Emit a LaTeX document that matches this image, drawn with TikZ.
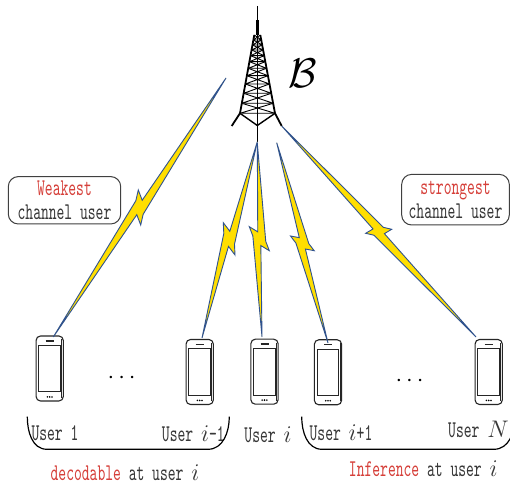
\documentclass[tikz,border=0pt]{standalone}
\usepackage{fontspec}
\usetikzlibrary{calc}
\newfontfamily\monofont[FakeStretch=0.62]{lmmono10-regular.otf}
\definecolor{boltblue}{RGB}{47,82,143}
\definecolor{boltyellow}{RGB}{255,222,0}
\definecolor{labelred}{RGB}{214,64,58}
\definecolor{labelgray}{RGB}{55,55,55}

\tikzset{
  bolt/.style={draw=boltblue, fill=boltyellow, line width=0.45pt},
  phone/.style={draw=black!85, line width=0.55pt, rounded corners=2.2pt,
    minimum width=13.6pt, minimum height=32.5pt, inner sep=0pt},
  phonepart/.style={draw=black!85, line width=0.45pt},
  lbl/.style={font=\monofont\fontsize{12}{12}\selectfont, text=labelgray, inner sep=0pt},
  tagbox/.style={draw=black!75, line width=0.5pt, rounded corners=5pt, align=center,
    font=\monofont\fontsize{12}{12}\selectfont, text=labelgray, inner sep=0pt},
  bracket/.style={draw=black, line width=0.6pt},
  lattice/.style={line width=0.45pt},
  dotsnode/.style={font=\fontsize{12.5}{14}\selectfont, inner sep=0pt},
}

% zigzag bolt: #1 top tip, #2 upper spike, #3 lower spike, #4 bottom tip
\newcommand\lightning[4]{%
  \draw[bolt] (#1)
    -- ($(#2)!0.7!(#3)!1.6pt!90:(#3)$)
    -- (#3)
    -- ($(#2)!0.7!(#3)!1.6pt!-90:(#3)$)
    -- (#4)
    -- ($(#2)!0.3!(#3)!1.6pt!-90:(#3)$)
    -- (#2)
    -- ($(#2)!0.3!(#3)!1.6pt!90:(#3)$)
    -- cycle;}

% screen, side edge, earpiece and buttons of a handset node
\newcommand\handset[1]{%
  \draw[phonepart] ($(#1.north east)+(-2.2,4)$) -- ($(#1.south east)+(-2.2,-4)$);
  \draw[phonepart] ($(#1.center)+(-10.8,-23.3)$) rectangle ($(#1.center)+(10.6,23.3)$);
  \draw[phonepart, line width=0.65pt] ($(#1.north)+(-4,5.5)$) -- ($(#1.north)+(4,5.5)$);
  \foreach \dx in {-2.3,0,2.3} \fill ($(#1.south)+(\dx,-4.6)$) circle (0.45pt);
}

\begin{document}
\begin{tikzpicture}[x=0.5pt,y=-0.5pt]
\useasboundingbox (0,0) rectangle (510,485);
\fill[white] (0,0) rectangle (510,485);

% ---- transmission tower ----
\draw[line width=0.7pt] (257.3,6) -- (257.3,21);
\fill (255.6,20) rectangle (259.0,35);
\foreach \ya/\yb in {35/40,40/45,45/50,50/55.7,55.7/61.7,61.7/68.3,68.3/75.7,75.7/84,84/93.3,93.3/103.3,103.3/113.3}{
  \pgfmathsetmacro\la{254.3-(\ya-35)*0.1826}
  \pgfmathsetmacro\lb{254.3-(\yb-35)*0.1826}
  \pgfmathsetmacro\ra{260.3+(\ya-35)*0.1884}
  \pgfmathsetmacro\rb{260.3+(\yb-35)*0.1884}
  \draw[lattice] (\la,\ya) -- (\rb,\yb) (\ra,\ya) -- (\lb,\yb) (\la,\yb) -- (\rb,\yb);
}
\draw[line width=0.9pt] (254.3,35) -- (240,113.3) -- (231.7,126);
\draw[line width=0.9pt] (260.3,35) -- (275,113.3) -- (281.7,126);
\draw[line width=0.7pt] (240,113.3) -- (257.3,125.5) -- (275,113.3);
\draw[line width=0.7pt] (257.3,35) -- (257.3,141.7);
\node (bs) at (303,73) {\fontsize{22}{22}\selectfont$\mathcal{B}$};

% ---- handsets ----
\node[phone] (u1)   at (49.7,368.5) {};
\node[phone] (ui1)  at (199.7,372) {};
\node[phone] (ui)   at (264.5,371.7) {};
\node[phone] (uip1) at (328,372.3) {};
\node[phone] (uN)   at (488.7,372) {};
\foreach \p in {u1,ui1,ui,uip1,uN} {\handset{\p}}

\node[dotsnode] (dl) at (121.7,378) {$\cdots$};
\node[dotsnode] (dr) at (409.5,381) {$\cdots$};

% ---- bolt end points ----
\coordinate (p1) at (226,78);    \coordinate (s1a) at (138.3,190); \coordinate (s1b) at (140.7,225); \coordinate (q1) at (53.3,337);
\coordinate (p2) at (257.3,141.7); \coordinate (s2a) at (223.3,222.7); \coordinate (s2b) at (235,255); \coordinate (q2) at (202,338);
\coordinate (p3) at (257.3,143);  \coordinate (s3a) at (249.3,226.7); \coordinate (s3b) at (269.3,250.7); \coordinate (q3) at (262,337);
\coordinate (p4) at (276.7,142.7); \coordinate (s4a) at (290.5,236); \coordinate (s4b) at (314.2,250.7); \coordinate (q4) at (328,343);
\coordinate (p5) at (281.7,126);  \coordinate (s5a) at (365.7,233.3); \coordinate (s5b) at (391.7,229.3); \coordinate (q5) at (476,337);

\lightning{p1}{s1a}{s1b}{q1}
\lightning{p2}{s2a}{s2b}{q2}
\lightning{p3}{s3a}{s3b}{q3}
\lightning{p4}{s4a}{s4b}{q4}
\lightning{p5}{s5a}{s5b}{q5}

% ---- tags ----
\node[tagbox, minimum width=56.2pt, minimum height=23.7pt] (weak) at (64.5,200.3)
  {\textcolor{labelred}{Weakest}\\channel user};
\node[tagbox, minimum width=53.8pt, minimum height=25.3pt] (strong) at (455.5,199.7)
  {\textcolor{labelred}{strongest}\\channel user};

% ---- user labels ----
\node[lbl] (l1)   at (55,433)    {User 1};
\node[lbl] (li1)  at (193.3,434) {User $i$-1};
\node[lbl] (li)   at (268,435)   {User $i$};
\node[lbl] (lip1) at (341,433)   {User $i$+1};
\node[lbl, anchor=east] (lN) at (509,429) {User $N$};

% ---- grouping brackets ----
\draw[bracket] (27.3,416.7) to[out=-90,in=180] (47,449.3) -- (208,449.3) to[out=0,in=-90] (229.3,416.7);
\draw[bracket] (301.7,416.7) to[out=-90,in=180] (322,449.3) -- (494,449.3) to[out=0,in=-90] (515,417);

\node[lbl] (dec) at (125,473) {\textcolor{labelred}{decodable} at user $i$};
\node[lbl] (inf) at (423.3,469) {\textcolor{labelred}{Inference} at user $i$};
\end{tikzpicture}
\end{document}
